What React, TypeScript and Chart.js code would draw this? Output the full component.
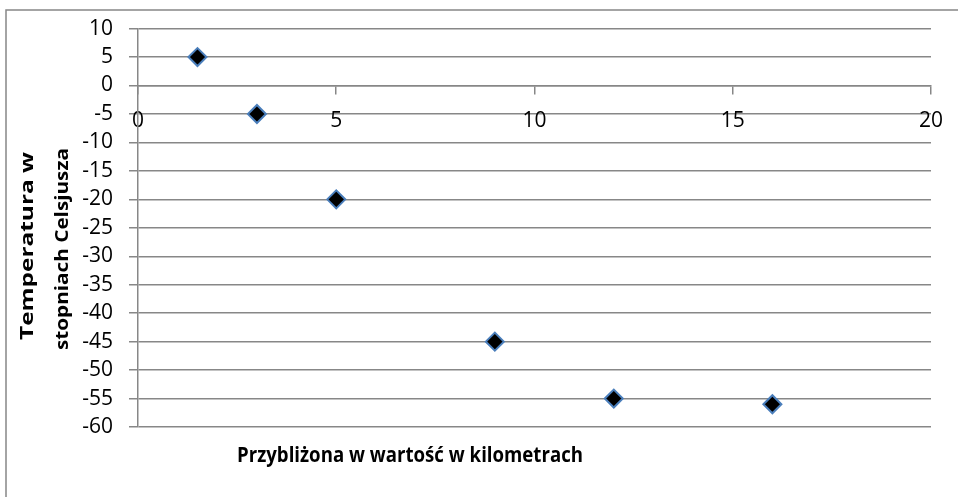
import React, { useEffect, useRef } from "react";
import { Chart, registerables } from "chart.js";

Chart.register(...registerables);

// Approximate altitude (km) and air temperature (°C)
const distanceKm = [1.5, 3, 5, 9, 12, 16];
const temperatureC = [5, -5, -20, -45, -55, -56];

// Axis ranges and tick steps
const xMin = 0;
const xMax = 20;
const xStep = 5;
const yMin = -60;
const yMax = 10;
const yStep = 5;

const xTitle = "Przybliżona w wartość w kilometrach";
const yTitleLines = ["Temperatura w", "stopniach Celsjusza"];

const GRID = "#878787";
const TICK_FONT = { family: "'Open Sans', sans-serif", size: 21 };

// Draws text whose length is stretched/condensed to a given width.
function fittedText(
  ctx: CanvasRenderingContext2D,
  text: string,
  x: number,
  y: number,
  width: number,
  font: string,
  rotate: number
) {
  ctx.save();
  ctx.font = font;
  const natural = ctx.measureText(text).width || 1;
  ctx.translate(x, y);
  ctx.rotate(rotate);
  ctx.scale(width / natural, 1);
  ctx.textAlign = "center";
  ctx.textBaseline = "alphabetic";
  ctx.fillStyle = "#000";
  ctx.fillText(text, 0, 0);
  ctx.restore();
}

const framePlugin = {
  id: "frameAndTitles",
  beforeDraw(chart: Chart) {
    const ctx = chart.ctx;
    ctx.save();
    ctx.fillStyle = "#fff";
    ctx.fillRect(0, 0, chart.width, chart.height);
    ctx.strokeStyle = GRID;
    ctx.lineWidth = 1.5;
    ctx.beginPath();
    ctx.moveTo(6, chart.height);
    ctx.lineTo(6, 10);
    ctx.lineTo(chart.width, 10);
    ctx.stroke();
    ctx.restore();
  },
  afterDraw(chart: Chart) {
    const ctx = chart.ctx;
    const area = chart.chartArea;
    const boldX = "bold 22px 'Open Sans', sans-serif";
    const boldY = "bold 18px 'Open Sans', sans-serif";
    // axis title under the plot
    fittedText(ctx, xTitle, 410, area.bottom + 35, 346, boldX, 0);
    // two-line vertical title on the left
    fittedText(ctx, yTitleLines[0], 33, 246, 188, boldY, -Math.PI / 2);
    fittedText(ctx, yTitleLines[1], 68, 249, 202, boldY, -Math.PI / 2);
  },
};

export default function App() {
  const canvasRef = useRef<HTMLCanvasElement | null>(null);

  useEffect(() => {
    const canvas = canvasRef.current;
    if (!canvas) return;
    const chart = new Chart(canvas, {
      type: "scatter",
      data: {
        datasets: [
          {
            label: "Temperatura",
            data: distanceKm.map((x, i) => ({ x, y: temperatureC[i] })),
            pointStyle: "rectRot",
            pointRadius: 9,
            pointHoverRadius: 9,
            pointBackgroundColor: "#000000",
            pointBorderColor: "#4a7ebb",
            pointBorderWidth: 2,
            showLine: false,
          },
        ],
      },
      options: {
        responsive: false,
        animation: false,
        layout: { padding: { left: 0, top: 27, right: 20, bottom: 70 } },
        plugins: {
          legend: { display: false },
          tooltip: { enabled: false },
        },
        scales: {
          x: {
            type: "linear",
            position: { y: 0 },
            min: xMin,
            max: xMax,
            ticks: {
              stepSize: xStep,
              color: "#000",
              font: TICK_FONT,
              padding: 15,
              maxRotation: 0,
            },
            grid: {
              drawOnChartArea: false,
              drawTicks: true,
              tickLength: 8,
              color: GRID,
              lineWidth: 1.5,
            },
            border: { display: true, color: GRID, width: 1.5 },
          },
          y: {
            type: "linear",
            position: "left",
            min: yMin,
            max: yMax,
            afterFit: (scale: any) => {
              scale.width = 138;
            },
            ticks: {
              stepSize: yStep,
              color: "#000",
              font: TICK_FONT,
              padding: 16,
            },
            grid: {
              drawTicks: true,
              tickLength: 9,
              color: GRID,
              lineWidth: 1.5,
            },
            border: { display: true, color: GRID, width: 1.5 },
          },
        },
      },
      plugins: [framePlugin],
    });
    return () => chart.destroy();
  }, []);

  return (
    <div style={{ position: "absolute", left: 0, top: 0, width: 958, height: 497, background: "#fff" }}>
      <canvas ref={canvasRef} width={958} height={497} style={{ display: "block" }} />
    </div>
  );
}
